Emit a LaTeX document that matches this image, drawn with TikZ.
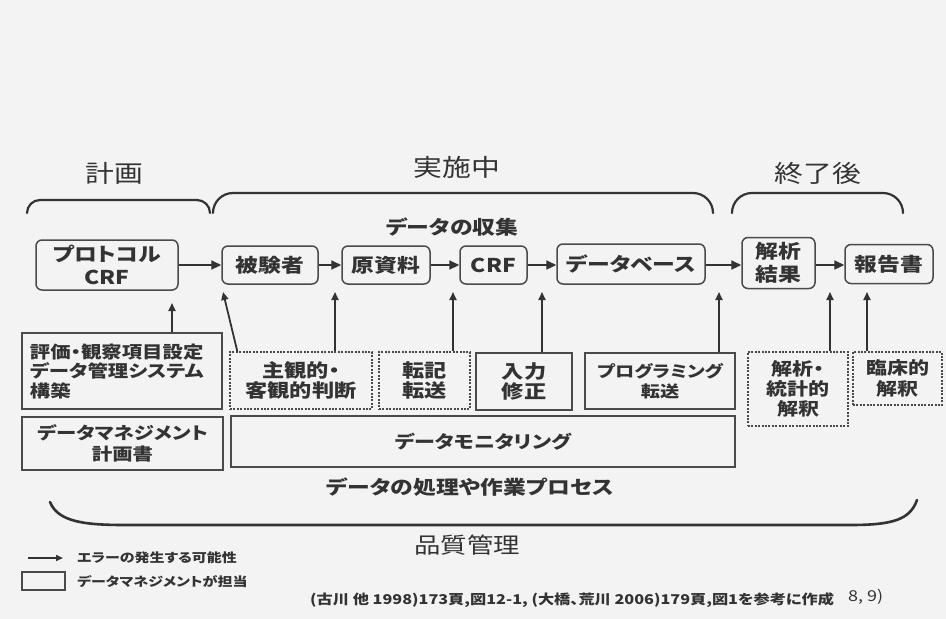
\documentclass[tikz,border=0pt]{standalone}
\usepackage{fontspec}
\newfontfamily\jp[FakeStretch=1.2,RawFeature=+palt]{Noto Sans CJK JP}
\usetikzlibrary{arrows.meta}
\definecolor{ink}{HTML}{333333}
\definecolor{edge}{HTML}{4A4A4A}
\definecolor{paper}{HTML}{F3F3F3}
\begin{document}
\begin{tikzpicture}[x=1pt,y=-1pt,
  rbox/.style={draw=edge, line width=1.5pt, rounded corners=6pt, fill=paper, inner sep=0pt, align=center, text=ink,
    font=\jp\bfseries\fontsize{19pt}{23pt}\selectfont},
  sbox/.style={draw=edge, line width=1.4pt, fill=paper, inner sep=0pt, align=center, text=ink,
    font=\jp\bfseries\fontsize{18.5pt}{20pt}\selectfont},
  dbox/.style={sbox, dash pattern=on 2pt off 1.4pt},
  flow/.style={draw=ink, line width=2.2pt, -{Triangle[length=10pt,width=9pt]}},
  err/.style={draw=ink, line width=1.8pt, -{Triangle[length=8pt,width=7pt]}},
  brace/.style={draw=ink, line width=2.2pt, line cap=round},
  phase/.style={font=\jp\fontsize{24pt}{28pt}\selectfont, text=ink},
  head/.style={font=\jp\bfseries\fontsize{19pt}{22pt}\selectfont, text=ink},
  small/.style={font=\jp\bfseries\fontsize{12.5pt}{14pt}\selectfont, text=ink, inner sep=0pt},
]
\fill[paper] (0,0) rectangle (946,619);
\useasboundingbox (0,0) rectangle (946,619);

% phase labels
\node[phase] (lplan) at (114,173) {計画};
\node[phase] (lrun) at (457,167) {実施中};
\node[phase] (lend) at (818,173) {終了後};

% top braces
\draw[brace, rounded corners=13pt] (27,213) -- (27,200) -- (210,200) -- (210,213);
\draw[brace, rounded corners=20pt] (213,213) -- (213,193) -- (713,193) -- (713,213);
\draw[brace, rounded corners=20pt] (732,213) -- (732,193) -- (903,193) -- (903,213);

\node[head] (lcollect) at (452,227) {データの収集};

% top row
\node[rbox, minimum width=142pt, minimum height=50pt] (proto) at (107,265) {プロトコル\\CRF};
\node[rbox, minimum width=96pt, minimum height=38pt] (subj) at (270,265) {被験者};
\node[rbox, minimum width=88pt, minimum height=38pt] (src) at (386,265) {原資料};
\node[rbox, minimum width=67pt, minimum height=38pt] (crf) at (493.5,265) {CRF};
\node[rbox, minimum width=148pt, minimum height=40pt] (db) at (631,264) {データベース};
\node[rbox, minimum width=73pt, minimum height=51pt] (ana) at (778.5,263) {解析\\結果};
\node[rbox, minimum width=88pt, minimum height=39pt] (rep) at (889,264) {報告書};

\draw[flow] (proto.east |- subj) -- (subj.west);
\draw[flow] (subj.east) -- (src.west);
\draw[flow] (src.east) -- (crf.west);
\draw[flow] (crf.east) -- (crf.east -| db.west);
\draw[flow] (db.east |- crf) -- (crf -| ana.west);
\draw[flow] (ana.east |- crf) -- (crf -| rep.west);

% bottom boxes
\node[sbox, minimum width=200pt, minimum height=76pt, align=left, text width=184pt,
  font=\jp\bfseries\fontsize{17pt}{19.5pt}\selectfont] (eval) at (122,371)
  {評価・観察項目設定\\データ管理システム\\構築};
\node[sbox, minimum width=201pt, minimum height=53pt,
  font=\jp\bfseries\fontsize{17pt}{21pt}\selectfont] (dmp) at (122.5,443.5) {データマネジメント\\計画書};
\node[dbox, minimum width=142pt, minimum height=57pt] (sj) at (301,380.5) {主観的・\\客観的判断};
\node[dbox, minimum width=91pt, minimum height=57pt] (tr) at (424.5,380.5) {転記\\転送};
\node[sbox, minimum width=96pt, minimum height=57pt] (inp) at (524,381.5) {入力\\修正};
\node[sbox, minimum width=150pt, minimum height=56pt,
  font=\jp\bfseries\fontsize{16pt}{20pt}\selectfont] (prg) at (660,381) {プログラミング\\転送};
\node[sbox, minimum width=504pt, minimum height=51pt,
  font=\jp\bfseries\fontsize{17.5pt}{20pt}\selectfont] (mon) at (483,441.5) {データモニタリング};
\node[dbox, minimum width=100pt, minimum height=74pt,
  font=\jp\bfseries\fontsize{17.5pt}{20pt}\selectfont] (st) at (798,389) {解析・\\統計的\\解釈};
\node[dbox, minimum width=89pt, minimum height=53pt,
  font=\jp\bfseries\fontsize{17.5pt}{21pt}\selectfont] (cl) at (897.5,378.5) {臨床的\\解釈};

% error arrows
\coordinate (e1) at (172,303);
\coordinate (e2) at (223,292);
\coordinate (e3) at (335,292);
\coordinate (e4) at (453,292);
\coordinate (e5) at (542,292);
\coordinate (e6) at (719,292);
\coordinate (e7) at (830,292);
\coordinate (e8) at (867,292);
\draw[err] (eval.north -| e1) -- (e1);
\draw[err] ([xshift=8pt]sj.north west) -- (e2);
\draw[err] (sj.north -| e3) -- (e3);
\draw[err] (tr.north -| e4) -- (e4);
\draw[err] (inp.north -| e5) -- (e5);
\draw[err] (prg.north -| e6) -- (e6);
\draw[err] (st.north -| e7) -- (e7);
\draw[err] (cl.north -| e8) -- (e8);

\node[head] (lproc) at (470,487) {データの処理や作業プロセス};

% bottom brace
\draw[brace, line width=2.6pt] (50,502) .. controls (58,522) and (85,525) .. (125,525) -- (850,525) .. controls (892,525) and (910,520) .. (917,500);
\node[phase, font=\jp\fontsize{22pt}{26pt}\selectfont] (lqual) at (467,545) {品質管理};

% legend
\coordinate (lg1) at (28,558);
\coordinate (lg2) at (63,558);
\draw[err, line width=1.6pt, -{Triangle[length=7pt,width=6pt]}] (lg1) -- (lg2);
\node[small, anchor=west] (lgt1) at (77,558) {エラーの発生する可能性};
\node[draw=edge, line width=1.3pt, minimum width=43pt, minimum height=18pt, inner sep=0pt] (lgbox) at (43.5,581) {};
\node[small, anchor=west] (lgt2) at (77,582) {データマネジメントが担当};

% footer
\node[small, anchor=west, font=\jp\bfseries\fontsize{13.5pt}{16pt}\selectfont] (foot) at (310,600)
  {(古川 他 1998)173頁,図12-1, (大橋、荒川 2006)179頁,図1を参考に作成};
\node[small, anchor=west, font=\jp\fontsize{15pt}{18pt}\selectfont] (ref) at (848,597) {8, 9)};
\end{tikzpicture}
\end{document}
